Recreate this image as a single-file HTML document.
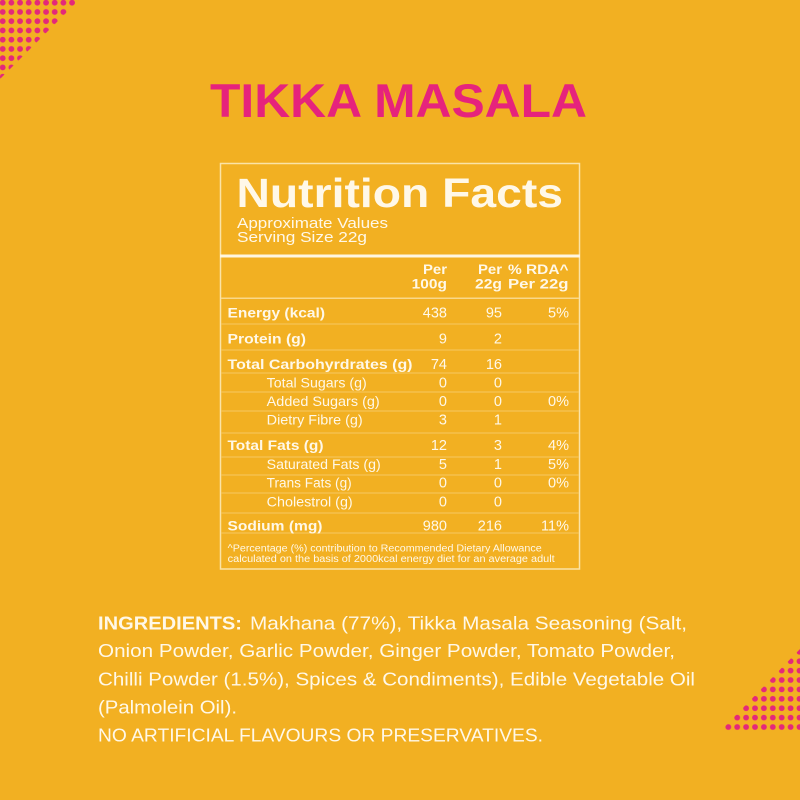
<!DOCTYPE html>
<html>
<head>
<meta charset="utf-8">
<style>
  html,body{margin:0;padding:0;background:#f2b022;}
  svg{display:block;}
  text{font-family:"Liberation Sans",sans-serif;fill:#fff8e8;}
  .b{font-weight:bold;}
</style>
</head>
<body>
<svg width="800" height="800" viewBox="0 0 800 800" xmlns="http://www.w3.org/2000/svg">
  <defs>
    <pattern id="dtl" patternUnits="userSpaceOnUse" x="-1.635" y="-1.925" width="8.67" height="9.25">
      <circle cx="4.335" cy="4.625" r="2.9" fill="#e4287a"/>
    </pattern>
    <pattern id="dbr" patternUnits="userSpaceOnUse" x="723.85" y="722.3" width="8.9" height="9.4">
      <circle cx="4.45" cy="4.7" r="2.9" fill="#e4287a"/>
    </pattern>
  </defs>
  <rect x="0" y="0" width="800" height="800" fill="#f2b022"/>
  <!-- dot corners -->
  <polygon points="0,0 79,0 0,79" fill="url(#dtl)"/>
  <polygon points="721,730.5 800,730.5 800,649" fill="url(#dbr)"/>

  <!-- title -->
  <text x="210" y="117" font-size="47" class="b" style="fill:#e6237c" textLength="377" lengthAdjust="spacingAndGlyphs">TIKKA MASALA</text>

  <!-- box -->
  <rect x="220.5" y="163.5" width="359" height="405.5" fill="none" stroke="#fbe3a6" stroke-width="1.5"/>
  <text x="236.5" y="207" font-size="41" class="b" textLength="326.5" lengthAdjust="spacingAndGlyphs">Nutrition Facts</text>
  <text x="237" y="228" font-size="14.5" textLength="151" lengthAdjust="spacingAndGlyphs">Approximate Values</text>
  <text x="237" y="242" font-size="14.5" textLength="130" lengthAdjust="spacingAndGlyphs">Serving Size 22g</text>
  <rect x="220" y="254.5" width="360" height="3" fill="#fff6e0"/>

  <!-- header -->
  <g font-size="13.5" class="b">
    <text x="423" y="274" class="b" textLength="24" lengthAdjust="spacingAndGlyphs">Per</text>
    <text x="411.7" y="288.5" class="b" textLength="35.3" lengthAdjust="spacingAndGlyphs">100g</text>
    <text x="478" y="274" class="b" textLength="24" lengthAdjust="spacingAndGlyphs">Per</text>
    <text x="475" y="288.5" class="b" textLength="27" lengthAdjust="spacingAndGlyphs">22g</text>
    <text x="508" y="274" class="b" textLength="60.5" lengthAdjust="spacingAndGlyphs">% RDA^</text>
    <text x="508" y="288.5" class="b" textLength="60.5" lengthAdjust="spacingAndGlyphs">Per 22g</text>
  </g>

  <!-- row lines -->
  <g fill="#f6c862">
    <rect x="221" y="297.5" width="358" height="1.5" fill="#f9d88a"/>
    <rect x="221" y="323.5" width="358" height="1"/>
    <rect x="221" y="349.5" width="358" height="1"/>
    <rect x="221" y="372.5" width="358" height="1"/>
    <rect x="221" y="391.5" width="358" height="1"/>
    <rect x="221" y="410.5" width="358" height="1"/>
    <rect x="221" y="432.5" width="358" height="1"/>
    <rect x="221" y="456.5" width="358" height="1"/>
    <rect x="221" y="474.5" width="358" height="1"/>
    <rect x="221" y="492.5" width="358" height="1"/>
    <rect x="221" y="512.5" width="358" height="1"/>
    <rect x="221" y="532.5" width="358" height="1"/>
  </g>

  <!-- labels -->
  <g font-size="13.5">
    <text x="227.5" y="317.7" class="b" textLength="97.5" lengthAdjust="spacingAndGlyphs">Energy (kcal)</text>
    <text x="227.5" y="343.3" class="b" textLength="78.5" lengthAdjust="spacingAndGlyphs">Protein (g)</text>
    <text x="227.5" y="369" class="b" textLength="185" lengthAdjust="spacingAndGlyphs">Total Carbohyrdrates (g)</text>
    <text x="266.7" y="387.7" textLength="100" lengthAdjust="spacingAndGlyphs">Total Sugars (g)</text>
    <text x="266.7" y="406" textLength="113" lengthAdjust="spacingAndGlyphs">Added Sugars (g)</text>
    <text x="266.7" y="424.3" textLength="96" lengthAdjust="spacingAndGlyphs">Dietry Fibre (g)</text>
    <text x="227.5" y="450" class="b" textLength="96" lengthAdjust="spacingAndGlyphs">Total Fats (g)</text>
    <text x="266.7" y="469" textLength="114" lengthAdjust="spacingAndGlyphs">Saturated Fats (g)</text>
    <text x="266.7" y="487.7" textLength="85" lengthAdjust="spacingAndGlyphs">Trans Fats (g)</text>
    <text x="266.7" y="506.7" textLength="86" lengthAdjust="spacingAndGlyphs">Cholestrol (g)</text>
    <text x="227.5" y="530.7" class="b" textLength="95" lengthAdjust="spacingAndGlyphs">Sodium (mg)</text>
  </g>

  <!-- values -->
  <g font-size="14.5" text-anchor="end">
    <text x="447" y="317.7">438</text><text x="502" y="317.7">95</text><text x="569" y="317.7">5%</text>
    <text x="447" y="343.3">9</text><text x="502" y="343.3">2</text>
    <text x="447" y="369">74</text><text x="502" y="369">16</text>
    <text x="447" y="387.7">0</text><text x="502" y="387.7">0</text>
    <text x="447" y="406">0</text><text x="502" y="406">0</text><text x="569" y="406">0%</text>
    <text x="447" y="424.3">3</text><text x="502" y="424.3">1</text>
    <text x="447" y="450">12</text><text x="502" y="450">3</text><text x="569" y="450">4%</text>
    <text x="447" y="469">5</text><text x="502" y="469">1</text><text x="569" y="469">5%</text>
    <text x="447" y="487.7">0</text><text x="502" y="487.7">0</text><text x="569" y="487.7">0%</text>
    <text x="447" y="506.7">0</text><text x="502" y="506.7">0</text>
    <text x="447" y="530.7">980</text><text x="502" y="530.7">216</text><text x="569" y="530.7">11%</text>
  </g>

  <!-- footnote -->
  <text x="227.7" y="551.5" font-size="10" textLength="314" lengthAdjust="spacingAndGlyphs">^Percentage (%) contribution to Recommended Dietary Allowance</text>
  <text x="227.7" y="562" font-size="10" textLength="327" lengthAdjust="spacingAndGlyphs">calculated on the basis of 2000kcal energy diet for an average adult</text>

  <!-- ingredients -->
  <g font-size="18.5">
    <text x="98" y="629.5" class="b" textLength="144" lengthAdjust="spacingAndGlyphs">INGREDIENTS:</text>
    <text x="250" y="629.5" textLength="437" lengthAdjust="spacingAndGlyphs">Makhana (77%), Tikka Masala Seasoning (Salt,</text>
    <text x="98" y="657" textLength="577" lengthAdjust="spacingAndGlyphs">Onion Powder, Garlic Powder, Ginger Powder, Tomato Powder,</text>
    <text x="98" y="685.5" textLength="597" lengthAdjust="spacingAndGlyphs">Chilli Powder (1.5%), Spices &amp; Condiments), Edible Vegetable Oil</text>
    <text x="98" y="713.5" textLength="139" lengthAdjust="spacingAndGlyphs">(Palmolein Oil).</text>
    <text x="98" y="741.5" textLength="445" lengthAdjust="spacingAndGlyphs">NO ARTIFICIAL FLAVOURS OR PRESERVATIVES.</text>
  </g>
</svg>
</body>
</html>
